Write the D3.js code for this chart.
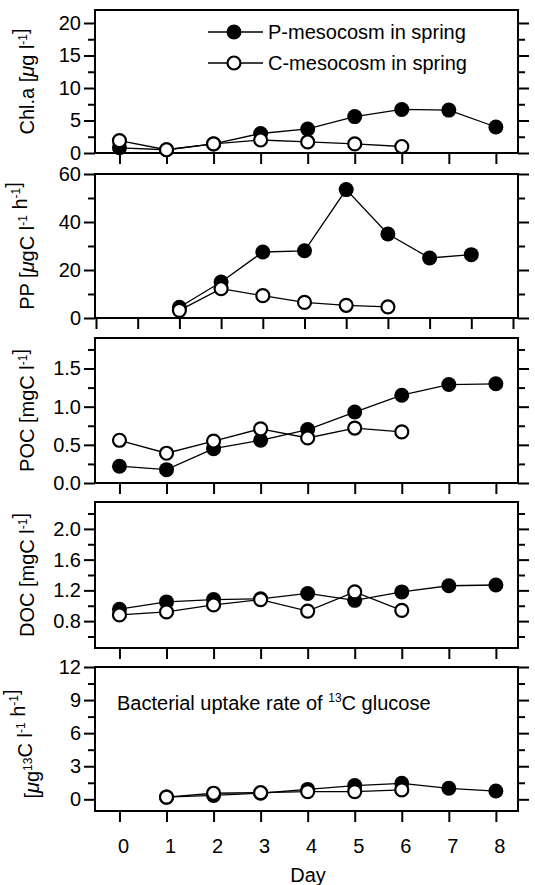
<!DOCTYPE html>
<html>
<head>
<meta charset="utf-8">
<script src="https://cdn.jsdelivr.net/npm/d3@7"></script>
<style>
  html, body { margin: 0; padding: 0; background: #fff; }
  svg { display: block; }
  text { font-family: "Liberation Sans", Arial, Helvetica, sans-serif; fill: #000; }
</style>
</head>
<body>
<svg id="chart" width="535" height="885"></svg>
<script>
// ---------------- data ----------------
const daysP = [0, 1, 2, 3, 4, 5, 6, 7, 8];
const daysC = [0, 1, 2, 3, 4, 5, 6];
const ppDaysP = [1, 2, 3, 4, 5, 6, 7, 8];
const ppDaysC = [1, 2, 3, 4, 5, 6];
const bacDaysP = [1, 2, 3, 4, 5, 6, 7, 8];
const bacDaysC = [1, 2, 3, 4, 5, 6];

const chlP = [0.8, 0.5, 1.4, 3.0, 3.7, 5.6, 6.7, 6.6, 4.0];
const chlC = [1.9, 0.5, 1.4, 2.0, 1.7, 1.4, 1.0];
const ppP = [4.5, 15.0, 27.5, 28.0, 53.5, 35.0, 25.0, 26.4];
const ppC = [3.2, 12.2, 9.3, 6.5, 5.3, 4.6];
const pocP = [0.22, 0.175, 0.45, 0.56, 0.70, 0.93, 1.15, 1.29, 1.30];
const pocC = [0.56, 0.39, 0.55, 0.71, 0.59, 0.72, 0.67];
const docP = [0.955, 1.05, 1.08, 1.09, 1.16, 1.07, 1.18, 1.26, 1.27];
const docC = [0.88, 0.92, 1.01, 1.08, 0.93, 1.18, 0.94];
const bacP = [0.2, 0.35, 0.55, 0.9, 1.25, 1.45, 1.0, 0.75];
const bacC = [0.2, 0.55, 0.6, 0.7, 0.7, 0.85];

const dayTicks = [0, 1, 2, 3, 4, 5, 6, 7, 8];
const ppTicks = [-1, 0, 1, 2, 3, 4, 5, 6, 7, 8, 9];

const chlMajor = [0, 5, 10, 15, 20], chlMinor = [2.5, 7.5, 12.5, 17.5];
const ppMajor = [0, 20, 40, 60], ppMinor = [10, 30, 50];
const pocMajor = [0, 0.5, 1.0, 1.5], pocMinor = [0.25, 0.75, 1.25, 1.75];
const docMajor = [0.8, 1.2, 1.6, 2.0], docMinor = [0.6, 1.0, 1.4, 1.8, 2.2];
const bacMajor = [0, 3, 6, 9, 12], bacMinor = [1.5, 4.5, 7.5, 10.5];

const legendLabels = ["P-mesocosm in spring", "C-mesocosm in spring"];

// ---------------- layout ----------------
const svg = d3.select("#chart");
const L = 95, R = 518;
const FS = 20;

const xDay = d3.scaleLinear().domain([-0.52, 8.47]).range([L, R]);
const xPP = d3.scaleLinear().domain([-1, 9]).range([96, 513]);

const panels = [
  { top: 10, bottom: 153, domain: [0, 22], major: chlMajor, minor: chlMinor, fmt: d3.format("d"),
    x: xDay, xt: dayTicks, P: [daysP, chlP], C: [daysC, chlC], title: "chl" },
  { top: 174, bottom: 318, domain: [0, 60], major: ppMajor, minor: ppMinor, fmt: d3.format("d"),
    x: xPP, xt: ppTicks, P: [ppDaysP, ppP], C: [ppDaysC, ppC], title: "pp" },
  { top: 338, bottom: 483, domain: [0, 1.9], major: pocMajor, minor: pocMinor, fmt: d3.format(".1f"),
    x: xDay, xt: dayTicks, P: [daysP, pocP], C: [daysC, pocC], title: "poc" },
  { top: 502, bottom: 648, domain: [0.45, 2.35], major: docMajor, minor: docMinor, fmt: d3.format(".1f"),
    x: xDay, xt: dayTicks, P: [daysP, docP], C: [daysC, docC], title: "doc" },
  { top: 667, bottom: 811, domain: [-1.06, 12], major: bacMajor, minor: bacMinor, fmt: d3.format("d"),
    x: xDay, xt: dayTicks, P: [bacDaysP, bacP], C: [bacDaysC, bacC], title: "bac" }
];

function addTitle(g, key, cx, cy) {
  const t = g.append("text")
    .attr("transform", `translate(${cx},${cy}) rotate(-90)`)
    .attr("text-anchor", "middle")
    .style("font-size", FS + "px");
  const sup = (txt) => { t.append("tspan").attr("dy", -7).style("font-size", "12px").text(txt); t.append("tspan").attr("dy", 7).text(""); };
  const mu = () => t.append("tspan").style("font-style", "italic").text("\u03bc");
  if (key === "chl") {
    t.append("tspan").text("Chl.a ["); mu(); t.append("tspan").text("g l"); sup("-1"); t.append("tspan").text("]");
  } else if (key === "pp") {
    t.append("tspan").text("PP ["); mu(); t.append("tspan").text("gC l"); sup("-1"); t.append("tspan").text(" h"); sup("-1"); t.append("tspan").text("]");
  } else if (key === "poc") {
    t.append("tspan").text("POC [mgC l"); sup("-1"); t.append("tspan").text("]");
  } else if (key === "doc") {
    t.append("tspan").text("DOC [mgC l"); sup("-1"); t.append("tspan").text("]");
  } else if (key === "bac") {
    t.append("tspan").text("["); mu(); t.append("tspan").text("g"); sup("13"); t.append("tspan").text("C l"); sup("-1"); t.append("tspan").text(" h"); sup("-1"); t.append("tspan").text("]");
  }
}

panels.forEach((p, i) => {
  const g = svg.append("g");
  const y = d3.scaleLinear().domain(p.domain).range([p.bottom, p.top]);
  const x = p.x;

  // left axis major
  const la = g.append("g").attr("transform", `translate(${L},0)`)
    .call(d3.axisLeft(y).tickValues(p.major).tickFormat(p.fmt).tickSize(11).tickPadding(3));
  la.select(".domain").remove();
  la.selectAll("line").attr("stroke-width", 2);
  la.selectAll("text").style("font-size", FS + "px").attr("font-family", null);
  const lm = g.append("g").attr("transform", `translate(${L},0)`)
    .call(d3.axisLeft(y).tickValues(p.minor).tickFormat("").tickSize(7));
  lm.select(".domain").remove();
  lm.selectAll("line").attr("stroke-width", 2);

  // right axis (outward ticks, no labels)
  const ra = g.append("g").attr("transform", `translate(${R},0)`)
    .call(d3.axisRight(y).tickValues(p.major).tickFormat("").tickSize(11));
  ra.select(".domain").remove();
  ra.selectAll("line").attr("stroke-width", 2);
  const rm = g.append("g").attr("transform", `translate(${R},0)`)
    .call(d3.axisRight(y).tickValues(p.minor).tickFormat("").tickSize(7));
  rm.select(".domain").remove();
  rm.selectAll("line").attr("stroke-width", 2);

  // bottom ticks
  const ba = g.append("g").attr("transform", `translate(0,${p.bottom})`)
    .call(d3.axisBottom(x).tickValues(p.xt).tickFormat("").tickSize(11));
  ba.select(".domain").remove();
  ba.selectAll("line").attr("stroke-width", 2);

  // frame
  g.append("rect").attr("x", L).attr("y", p.top).attr("width", R - L).attr("height", p.bottom - p.top)
    .attr("fill", "none").attr("stroke", "#000").attr("stroke-width", 2);

  // series
  const line = d3.line().x(d => x(d[0])).y(d => y(d[1]));
  const P = p.P[0].map((d, k) => [d, p.P[1][k]]);
  const C = p.C[0].map((d, k) => [d, p.C[1][k]]);
  g.append("path").datum(P).attr("d", line).attr("fill", "none").attr("stroke", "#000").attr("stroke-width", 1.3);
  g.append("path").datum(C).attr("d", line).attr("fill", "none").attr("stroke", "#000").attr("stroke-width", 1.3);
  g.selectAll(".pp" + i).data(P).join("circle")
    .attr("cx", d => x(d[0])).attr("cy", d => y(d[1])).attr("r", 7.5).attr("fill", "#000");
  g.selectAll(".cc" + i).data(C).join("circle")
    .attr("cx", d => x(d[0])).attr("cy", d => y(d[1])).attr("r", 6.5)
    .attr("fill", "#fff").attr("stroke", "#000").attr("stroke-width", 2.2);

  // y title
  const tx = (p.title === "bac") ? 39 : 34;
  addTitle(g, p.title, tx, (p.top + p.bottom) / 2 + (p.title === "bac" ? 5 : 0));
});

// x tick labels under last panel
svg.append("g").selectAll("text").data(dayTicks).join("text")
  .attr("x", d => xDay(d) + 4).attr("y", 853)
  .attr("text-anchor", "middle").style("font-size", FS + "px").text(d => d);
svg.append("text").attr("x", 308).attr("y", 882).attr("text-anchor", "middle")
  .style("font-size", FS + "px").text("Day");

// bacterial label
const bl = svg.append("text").attr("x", 117).attr("y", 710).style("font-size", FS + "px");
bl.append("tspan").text("Bacterial uptake rate of ");
bl.append("tspan").attr("dy", -8).style("font-size", "12px").text("13");
bl.append("tspan").attr("dy", 8).text("C glucose");

// legend
const leg = svg.append("g");
legendLabels.forEach((lab, k) => {
  const ly = 32 + k * 31;
  leg.append("line").attr("x1", 208).attr("x2", 263).attr("y1", ly).attr("y2", ly)
    .attr("stroke", "#000").attr("stroke-width", 1.3);
  if (k === 0) leg.append("circle").attr("cx", 234).attr("cy", ly).attr("r", 7.5).attr("fill", "#000");
  else leg.append("circle").attr("cx", 234).attr("cy", ly).attr("r", 6.5).attr("fill", "#fff")
    .attr("stroke", "#000").attr("stroke-width", 2.2);
  leg.append("text").attr("x", 268).attr("y", ly + 7).style("font-size", FS + "px").text(lab);
});
</script>
</body>
</html>
